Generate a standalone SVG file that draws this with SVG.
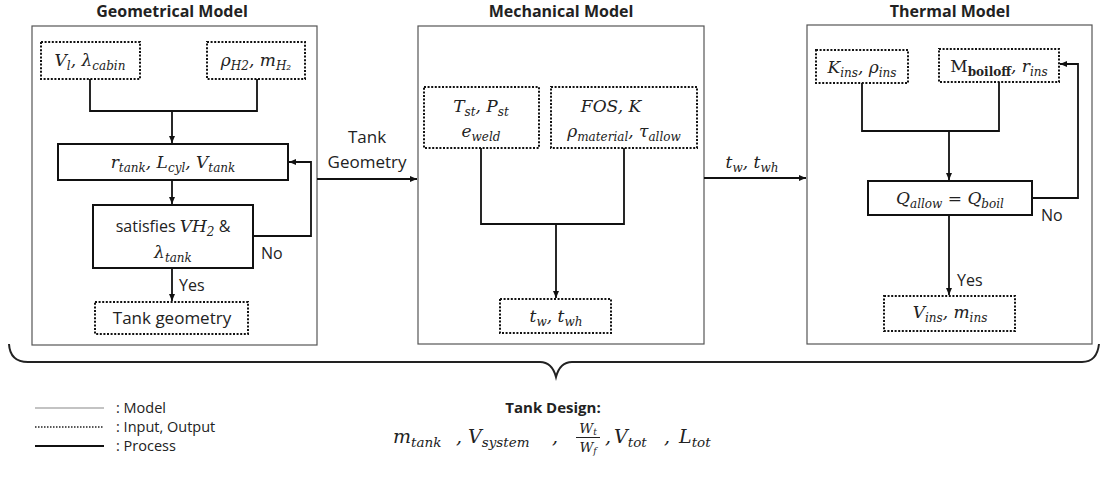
<svg xmlns="http://www.w3.org/2000/svg" width="1101" height="479" viewBox="0 0 1101 479">
<style>
.model{fill:none;stroke:#555;stroke-width:1.2}
.io{fill:none;stroke:#111;stroke-width:2;stroke-dasharray:2,1.6}
.proc{fill:none;stroke:#111;stroke-width:2}
.con{fill:none;stroke:#111;stroke-width:1.8}
.t{font-family:"Open Sans","Liberation Sans",sans-serif;font-size:16px;fill:#222}
.lg{font-family:"Open Sans","Liberation Sans",sans-serif;font-size:14.5px;fill:#222}
.tb{font-family:"Open Sans","Liberation Sans",sans-serif;font-size:16px;font-weight:bold;fill:#222}
.m{font-family:"DejaVu Serif","Liberation Serif",serif;font-style:italic;font-size:17px;fill:#222}
.s{font-size:12px}
.fm{font-family:"DejaVu Serif","Liberation Serif",serif;font-style:italic;font-size:19px;fill:#222}
.fs{font-size:13.5px}
.fr{font-family:"DejaVu Serif","Liberation Serif",serif;font-style:italic;font-size:13.5px;fill:#222}
.frs{font-size:9px}
</style>
<defs>
<marker id="ah" markerWidth="8" markerHeight="8" refX="7" refY="4" orient="auto" markerUnits="userSpaceOnUse">
<path d="M0,1 L7,4 L0,7 z" fill="#111"/>
</marker>
</defs>

<g id="geometrical-model">
<rect class="model" x="32" y="26" width="285" height="319"/>
<text class="tb" x="172" y="17" text-anchor="middle">Geometrical Model</text>
</g>
<g id="in-vl">
<rect class="io" x="41" y="42" width="99" height="37"/>
<text class="m" x="90" y="66" text-anchor="middle">V<tspan class="s" dy="4">l</tspan><tspan dy="-4">, λ</tspan><tspan class="s" dy="4">cabin</tspan></text>
</g>
<g id="in-rho">
<rect class="io" x="207" y="42" width="98" height="37"/>
<text class="m" x="256" y="66" text-anchor="middle">ρ<tspan class="s" dy="4">H2</tspan><tspan dy="-4">, m</tspan><tspan class="s" dy="4">H₂</tspan></text>
</g>
<g id="proc-rtank">
<rect class="proc" x="58" y="144" width="230" height="36"/>
<text class="m" x="173" y="168" text-anchor="middle">r<tspan class="s" dy="4">tank</tspan><tspan dy="-4">, L</tspan><tspan class="s" dy="4">cyl</tspan><tspan dy="-4">, V</tspan><tspan class="s" dy="4">tank</tspan></text>
</g>
<g id="proc-satisfies">
<rect class="proc" x="93" y="205" width="160" height="63"/>
<text class="t" x="173" y="232" text-anchor="middle">satisfies <tspan class="m">VH</tspan><tspan class="m s" dy="4">2</tspan><tspan dy="-4"> &amp;</tspan></text>
<text class="m" x="173" y="258" text-anchor="middle">λ<tspan class="s" dy="4">tank</tspan></text>
</g>
<g id="out-geometry">
<rect class="io" x="95" y="302" width="153" height="32"/>
<text class="t" x="172" y="324" text-anchor="middle" style="font-size:17px">Tank geometry</text>
</g>

<g id="mechanical-model">
<rect class="model" x="418" y="26" width="286" height="318"/>
<text class="tb" x="561" y="17" text-anchor="middle">Mechanical Model</text>
</g>
<g id="in-tst">
<rect class="io" x="424" y="87" width="115" height="61"/>
<text class="m" x="481" y="112" text-anchor="middle">T<tspan class="s" dy="4">st</tspan><tspan dy="-4">, P</tspan><tspan class="s" dy="4">st</tspan></text>
<text class="m" x="481" y="137" text-anchor="middle">e<tspan class="s" dy="4">weld</tspan></text>
</g>
<g id="in-fos">
<rect class="io" x="551" y="87" width="146" height="61"/>
<text class="m" x="611" y="112" text-anchor="middle">FOS, K</text>
<text class="m" x="624" y="137" text-anchor="middle">ρ<tspan class="s" dy="4">material</tspan><tspan dy="-4">, τ</tspan><tspan class="s" dy="4">allow</tspan></text>
</g>
<g id="out-tw">
<rect class="io" x="500" y="299" width="111" height="34"/>
<text class="m" x="556" y="322" text-anchor="middle">t<tspan class="s" dy="4">w</tspan><tspan dy="-4">, t</tspan><tspan class="s" dy="4">wh</tspan></text>
</g>

<g id="thermal-model">
<rect class="model" x="807" y="25" width="285" height="319"/>
<text class="tb" x="950" y="17" text-anchor="middle">Thermal Model</text>
</g>
<g id="in-kins">
<rect class="io" x="816" y="50" width="92" height="33"/>
<text class="m" x="862" y="73" text-anchor="middle">K<tspan class="s" dy="4">ins</tspan><tspan dy="-4">, ρ</tspan><tspan class="s" dy="4">ins</tspan></text>
</g>
<g id="in-mboil">
<rect class="io" x="939" y="49" width="120" height="33"/>
<text class="m" x="999" y="72" text-anchor="middle"><tspan font-style="normal">M</tspan><tspan class="s" font-style="normal" font-weight="bold" dy="4">boiloff</tspan><tspan dy="-4">, r</tspan><tspan class="s" dy="4">ins</tspan></text>
</g>
<g id="proc-q">
<rect class="proc" x="868" y="181" width="164" height="34"/>
<text class="m" x="950" y="204" text-anchor="middle">Q<tspan class="s" dy="4">allow</tspan><tspan dy="-4"> = Q</tspan><tspan class="s" dy="4">boil</tspan></text>
</g>
<g id="out-vins">
<rect class="io" x="884" y="296" width="131" height="35"/>
<text class="m" x="950" y="318" text-anchor="middle">V<tspan class="s" dy="4">ins</tspan><tspan dy="-4">, m</tspan><tspan class="s" dy="4">ins</tspan></text>
</g>

<g id="connectors">
<path class="con" d="M90,79 V111 H257 V79"/>
<path class="con" d="M172,111 V143" marker-end="url(#ah)"/>
<path class="con" d="M172,180 V204" marker-end="url(#ah)"/>
<path class="con" d="M253,236 H311 V162 H289" marker-end="url(#ah)"/>
<path class="con" d="M172,268 V301" marker-end="url(#ah)"/>
<path class="con" d="M317,179 H417" marker-end="url(#ah)"/>
<path class="con" d="M481,148 V224 H624 V148"/>
<path class="con" d="M556,224 V298" marker-end="url(#ah)"/>
<path class="con" d="M704,178 H806" marker-end="url(#ah)"/>
<path class="con" d="M862,83 V131 H999 V82"/>
<path class="con" d="M949,131 V180" marker-end="url(#ah)"/>
<path class="con" d="M1032,198 H1078 V64 H1060" marker-end="url(#ah)"/>
<path class="con" d="M949,215 V295" marker-end="url(#ah)"/>
<text class="t" x="261" y="259">No</text>
<text class="t" x="179" y="291">Yes</text>
<text class="t" x="367" y="143" text-anchor="middle" style="font-size:17px">Tank</text>
<text class="t" x="367" y="168" text-anchor="middle" style="font-size:17px">Geometry</text>
<text class="m" x="752" y="168" text-anchor="middle">t<tspan class="s" dy="4">w</tspan><tspan dy="-4">, t</tspan><tspan class="s" dy="4">wh</tspan></text>
<text class="t" x="1041" y="221">No</text>
<text class="t" x="957" y="286">Yes</text>
</g>

<g id="brace">
<path fill="none" stroke="#222" stroke-width="2" d="M9,344 Q10,362 28,362 L540,362 Q552,362 556,377 Q560,362 572,362 L1082,362 Q1097,362 1099,344"/>
</g>

<g id="legend">
<line x1="35" y1="408" x2="104" y2="408" stroke="#888" stroke-width="1.2"/>
<line x1="35" y1="427" x2="104" y2="427" stroke="#222" stroke-width="1.5" stroke-dasharray="1.5,1.5"/>
<line x1="35" y1="446" x2="104" y2="446" stroke="#111" stroke-width="2"/>
<text class="lg" x="116" y="413">: Model</text>
<text class="lg" x="116" y="432">: Input, Output</text>
<text class="lg" x="116" y="451">: Process</text>
</g>

<g id="tank-design">
<text class="tb" x="553" y="413" text-anchor="middle" style="font-size:15px">Tank Design:</text>
<text class="fm" x="393" y="443">m<tspan class="fs" dy="4">tank</tspan></text>
<text class="fm" x="456" y="443">,</text>
<text class="fm" x="468" y="443">V<tspan class="fs" dy="4">system</tspan></text>
<text class="fm" x="552" y="443">,</text>
<text class="fr" x="588" y="433" text-anchor="middle">W<tspan class="frs" dy="2">t</tspan></text>
<line x1="576" y1="437.5" x2="600" y2="437.5" stroke="#222" stroke-width="1"/>
<text class="fr" x="588" y="452" text-anchor="middle">W<tspan class="frs" dy="2">f</tspan></text>
<text class="fm" x="605" y="443">,</text>
<text class="fm" x="614" y="443">V<tspan class="fs" dy="4">tot</tspan></text>
<text class="fm" x="664" y="443">,</text>
<text class="fm" x="679" y="443">L<tspan class="fs" dy="4">tot</tspan></text>
</g>
</svg>
